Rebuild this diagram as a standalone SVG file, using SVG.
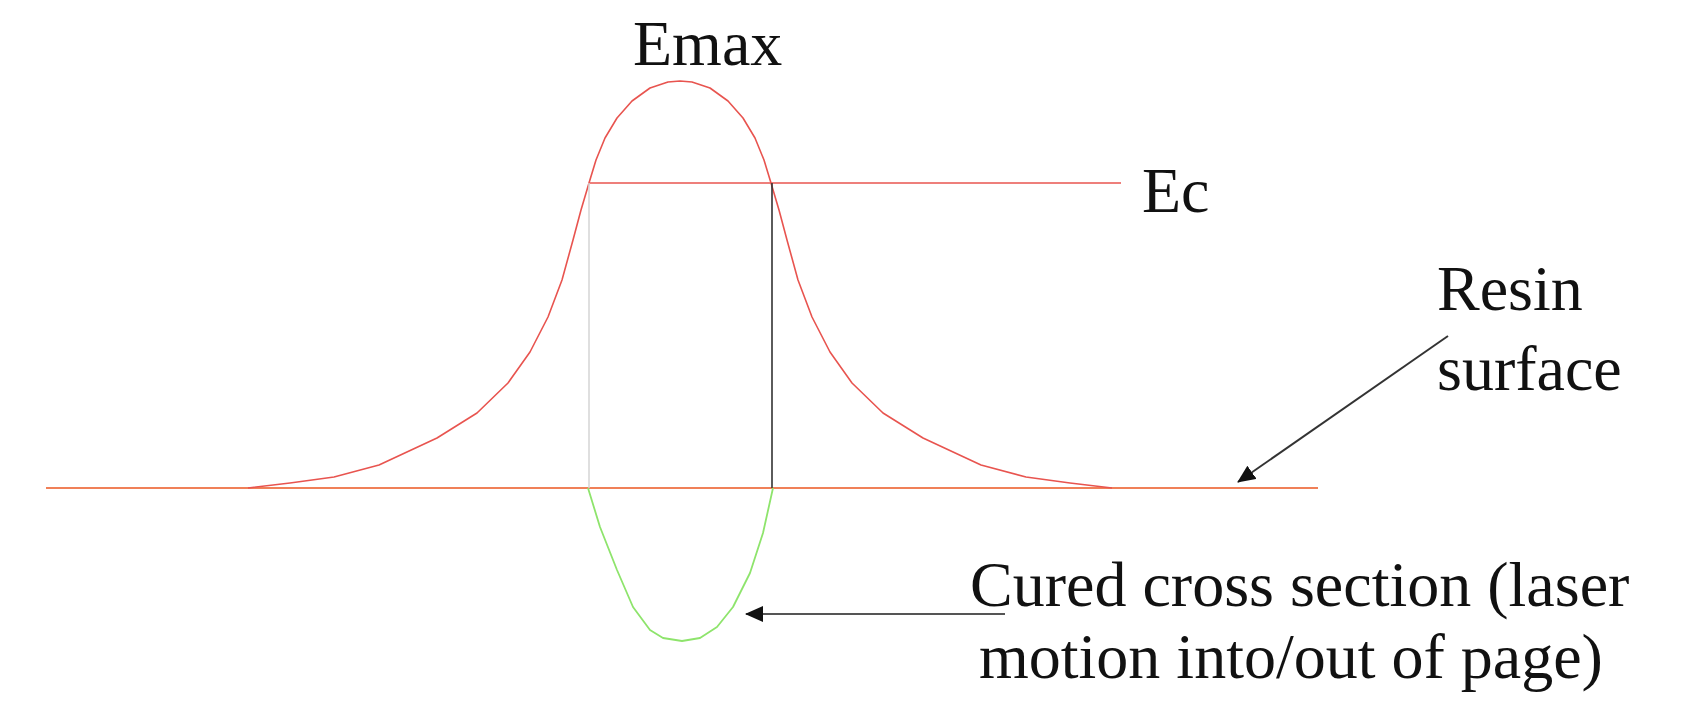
<svg xmlns="http://www.w3.org/2000/svg" width="1691" height="701" viewBox="0 0 1691 701">
  <style>
    .lbl { font-family: "Liberation Serif", "Times New Roman", serif; font-size: 64px; fill: #111; }
    .red { fill: none; stroke: #e8544f; stroke-width: 1.6; stroke-linejoin: round; }
    .base { fill: none; stroke: #f08058; stroke-width: 2.2; }
    .green { fill: none; stroke: #8ee46c; stroke-width: 1.8; stroke-linejoin: round; }
    .arrow { fill: none; stroke-width: 2; }
  </style>
  <defs>
    <marker id="ah" markerUnits="userSpaceOnUse" markerWidth="18" markerHeight="16" refX="17" refY="8" orient="auto">
      <path d="M0,0 L18,8 L0,16 z" fill="#111"/>
    </marker>
  </defs>
  <rect width="1691" height="701" fill="#ffffff"/>

  <g id="resin-surface">
    <line class="base" x1="46" y1="488" x2="1318" y2="488"/>
  </g>

  <g id="energy-curve">
    <polyline class="red" points="248,488 290,483 334,477 379,465 437,438 477,413 508,383 530,352 548,317 562,280 573,240 581,210 589,183 596,160 605,138 617,118 632,101 650,88 668,82 680,81 692,82 710,88 728,101 743,118 755,138 764,160 771,183 779,210 787,240 798,280 812,317 830,352 852,383 883,413 923,438 981,465 1026,477 1070,483 1112,488"/>
  </g>

  <g id="ec-line">
    <line class="red" x1="589" y1="183" x2="1121" y2="183"/>
  </g>

  <g id="width-lines">
    <line x1="589" y1="183" x2="589" y2="488" stroke="#d4d4d4" stroke-width="1.5"/>
    <line x1="772" y1="183" x2="772" y2="488" stroke="#333333" stroke-width="1.6"/>
  </g>

  <g id="cured-section">
    <polyline class="green" points="588,488 600,527 617,570 633,607 650,630 663,638 682,641 700,638 717,627 733,607 750,573 763,533 773,488"/>
  </g>

  <g id="connectors">
    <line class="arrow" x1="1448" y1="336" x2="1238" y2="482" stroke="#333" marker-end="url(#ah)"/>
    <line class="arrow" x1="1005" y1="614" x2="746" y2="614" stroke="#555" marker-end="url(#ah)"/>
  </g>

  <g id="label-emax"><text class="lbl" x="633" y="65">Emax</text></g>
  <g id="label-ec"><text class="lbl" x="1142" y="212">Ec</text></g>
  <g id="label-resin">
    <text class="lbl" x="1437" y="310">Resin</text>
    <text class="lbl" x="1437" y="390">surface</text>
  </g>
  <g id="label-cured">
    <text class="lbl" x="970" y="606">Cured cross section (laser</text>
    <text class="lbl" x="979" y="678">motion into/out of page)</text>
  </g>
</svg>
